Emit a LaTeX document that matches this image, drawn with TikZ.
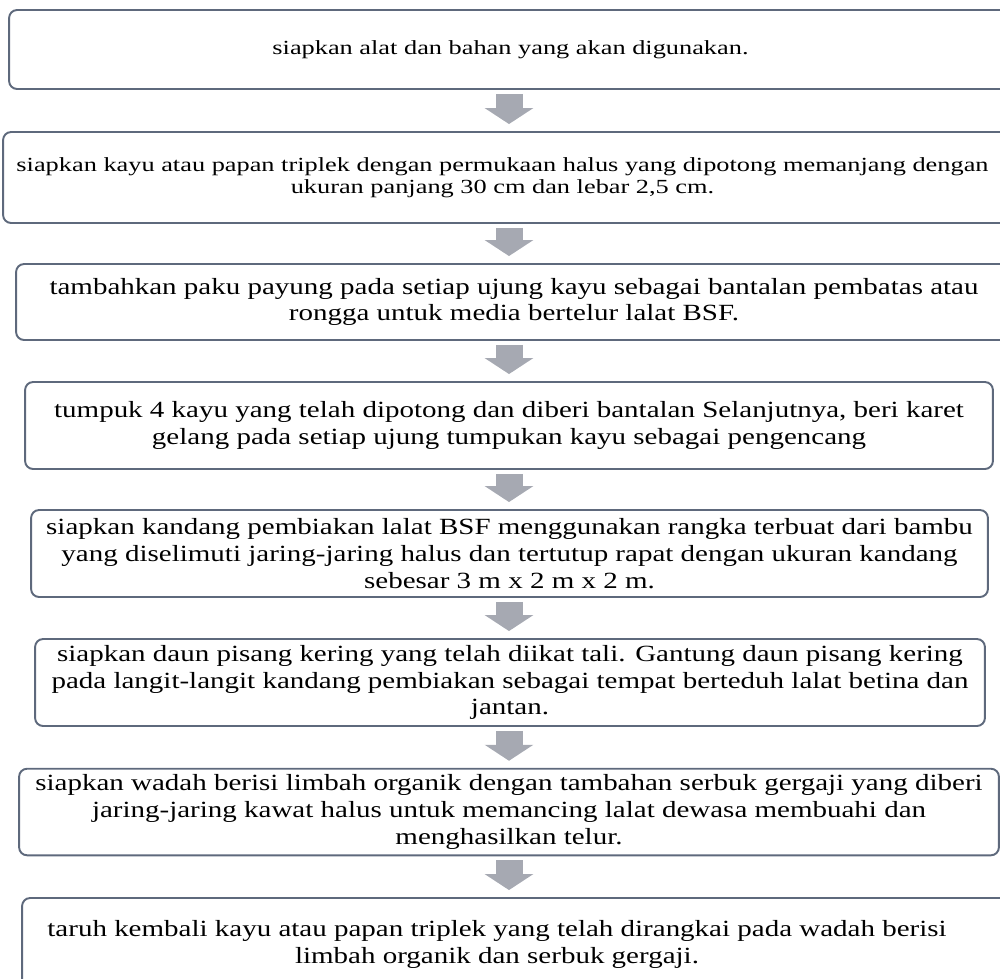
\documentclass[tikz,border=0pt]{standalone}
\usepackage{fontspec}
\setmainfont{Liberation Serif}[FakeStretch=1.25]
\newfontfamily\smallstep{Liberation Serif}[FakeStretch=1.315]
\usepackage{tikz}
\usetikzlibrary{arrows.meta}
\definecolor{boxline}{RGB}{94,105,124}
\definecolor{arrowgray}{RGB}{166,169,178}

\begin{document}
\begin{tikzpicture}[
                x=0.02cm, y=-0.02cm, % 一个单位 = 一个像素
                stepbox/.style={draw=boxline, line width=1.1pt, rounded corners=0.16cm,
                    align=center, inner xsep=0pt, font=\fontsize{13.2}{15.3}\selectfont},
                smallbox/.style={stepbox, font=\smallstep\fontsize{11.4}{12.8}\selectfont},
                flow/.style={draw=arrowgray, line width=0.54cm,
                    -{Triangle[width=0.96cm,length=0.32cm]},
                    shorten <=0.08cm, shorten >=0.14cm},
            ]
            % 画布大小
            \useasboundingbox (0,0) rectangle (1000,978);
            \clip (0,0) rectangle (1000,978);
            \coordinate (ax) at (509,0); % 箭头所在的竖线

            % 各个步骤
            \node[smallbox, minimum width=20.06cm, minimum height=1.58cm] (b1) at (510.5,49.5)
                {siapkan alat dan bahan yang akan digunakan.};
            \node[smallbox, minimum width=20.18cm, minimum height=1.82cm] (b2) at (507.5,177.5)
                {siapkan kayu atau papan triplek dengan permukaan halus yang dipotong memanjang dengan\hspace*{0.2cm}\\
                 ukuran panjang 30 cm dan lebar 2,5 cm.\hspace*{0.2cm}};
            \node[stepbox, minimum width=19.92cm, minimum height=1.52cm] (b3) at (514,302)
                {tambahkan paku payung pada setiap ujung kayu sebagai bantalan pembatas atau\\
                 rongga untuk media bertelur lalat BSF.};
            \node[stepbox, minimum width=19.36cm, minimum height=1.74cm] (b4) at (509,425.5)
                {tumpuk 4 kayu yang telah dipotong dan diberi bantalan Selanjutnya, beri karet\\
                 gelang pada setiap ujung tumpukan kayu sebagai pengencang};
            \node[stepbox, minimum width=19.14cm, minimum height=1.74cm] (b5) at (509.5,553.5)
                {siapkan kandang pembiakan lalat BSF menggunakan rangka terbuat dari bambu\\
                 yang diselimuti jaring-jaring halus dan tertutup rapat dengan ukuran kandang\\
                 sebesar 3 m x 2 m x 2 m.};
            \node[stepbox, minimum width=19.0cm, minimum height=1.74cm] (b6) at (510,682.5)
                {siapkan daun pisang kering yang telah diikat tali. Gantung daun pisang kering\\
                 pada langit-langit kandang pembiakan sebagai tempat berteduh lalat betina dan\\
                 jantan.};
            \node[stepbox, minimum width=19.6cm, minimum height=1.72cm] (b7) at (509,812)
                {siapkan wadah berisi limbah organik dengan tambahan serbuk gergaji yang diberi\\
                 jaring-jaring kawat halus untuk memancing lalat dewasa membuahi dan\\
                 menghasilkan telur.};
            \node[stepbox, minimum width=19.8cm, minimum height=1.84cm] (b8) at (517,944)
                {taruh kembali kayu atau papan triplek yang telah dirangkai pada wadah berisi\hspace*{0.8cm}\\
                 limbah organik dan serbuk gergaji.\hspace*{0.8cm}};

            % 灰色箭头
            \foreach \a/\b in {b1/b2, b2/b3, b3/b4, b4/b5, b5/b6, b6/b7, b7/b8}
                \draw[flow] (\a.south -| ax) -- (\b.north -| ax);
\end{tikzpicture}
\end{document}
